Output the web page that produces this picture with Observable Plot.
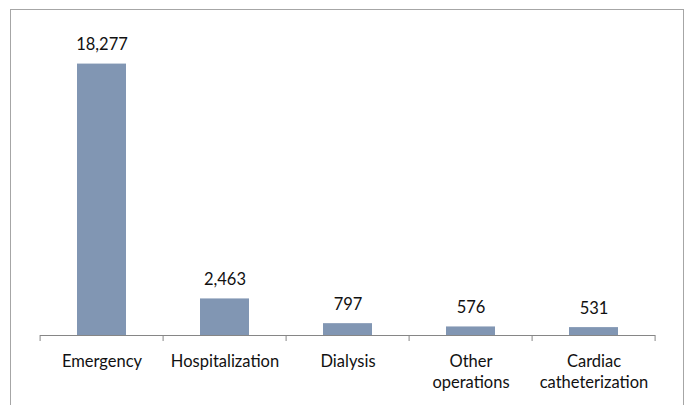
<!DOCTYPE html>
<html>
<head>
<meta charset="utf-8">
<script src="https://cdn.jsdelivr.net/npm/d3@7"></script>
<script src="https://cdn.jsdelivr.net/npm/@observablehq/plot@0.6"></script>
<style>
  html, body { margin: 0; padding: 0; background: #fff; overflow: hidden; }
  #wrap { position: relative; width: 689px; height: 405px; }
  #frame { position: absolute; left: 10px; top: 9px; width: 674px; height: 410px; border: 1px solid #a6a6a6; box-sizing: border-box; }
  #chart { position: absolute; left: 0; top: 0; }
</style>
</head>
<body>
<div id="wrap"><div id="frame"></div><div id="chart"></div></div>
<script>
const categories = ["Emergency", "Hospitalization", "Dialysis", "Other operations", "Cardiac catheterization"];
const values = [18277, 2463, 797, 576, 531];
const yMax = 20000;

const data = categories.map((c, i) => ({category: c, value: values[i]}));
const font = "Lato, 'Open Sans', sans-serif";
const padInner = 0.6;

// tick marks at band boundaries, computed from the x scale positions
function bandTicks(index, scales, values, dims) {
  const x = scales.x;
  const positions = categories.map(c => x(c));
  const step = positions[1] - positions[0];
  const bw = step * (1 - padInner);
  const off = (step - bw) / 2;
  const bounds = positions.map(p => p - off);
  bounds.push(positions[positions.length - 1] + bw + off);
  const y0 = scales.y(0);
  const g = d3.create("svg:g");
  for (const b of bounds) {
    g.append("line").attr("x1", b).attr("x2", b).attr("y1", y0).attr("y2", y0 + 6)
      .attr("stroke", "#868686").attr("stroke-width", 1);
  }
  return g.node();
}

const plot = Plot.plot({
  width: 689,
  height: 405,
  marginLeft: 40,
  marginRight: 34,
  marginTop: 38,
  marginBottom: 70,
  style: {fontFamily: font, fontSize: "16px", color: "#000", background: "transparent"},
  x: {domain: categories, paddingInner: padInner, paddingOuter: padInner / 2, label: null},
  y: {domain: [0, yMax], axis: null},
  marks: [
    Plot.barY(data, {x: "category", y: "value", fill: "#8196B3"}),
    Plot.ruleY([0], {stroke: "#868686", strokeWidth: 1}),
    bandTicks,
    Plot.text(data, {x: "category", y: "value", text: d => d3.format(",")(d.value), dy: -19, fill: "#111", fontSize: 16.5}),
    Plot.axisX({tickSize: 0, tickPadding: 16, lineHeight: 1.3, fontSize: 16.5, fill: "#111",
      tickFormat: d => d.replace(" ", "\n"), label: null})
  ]
});
document.getElementById("chart").appendChild(plot);
</script>
</body>
</html>
